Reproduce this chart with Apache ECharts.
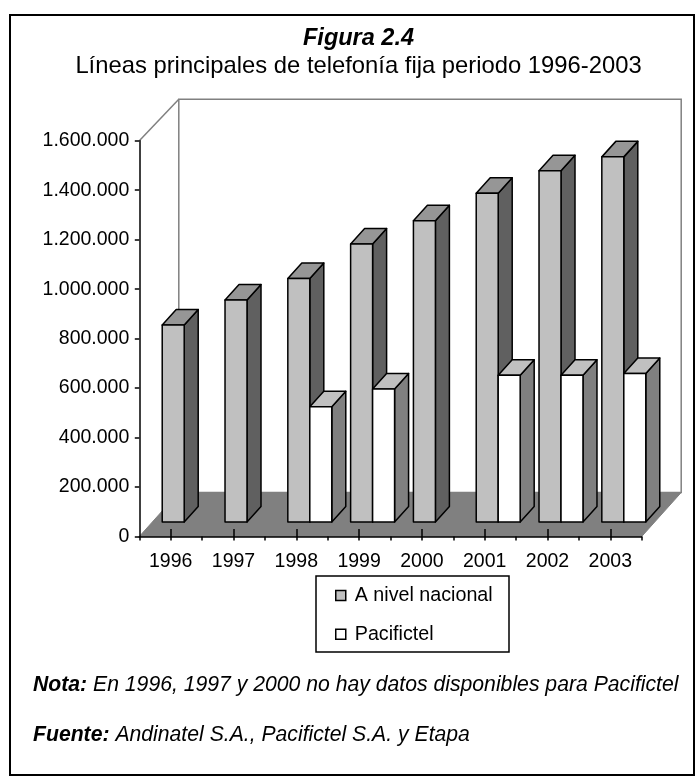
<!DOCTYPE html>
<html><head><meta charset="utf-8">
<script src="https://cdn.jsdelivr.net/npm/echarts@6/dist/echarts.min.js"></script>
<style>html,body{margin:0;padding:0;background:#fff}#c{width:695px;height:776px}</style>
</head><body><div id="c"></div>
<script>
// ---- data ----
const years = ['1996','1997','1998','1999','2000','2001','2002','2003'];
const nacional = [796000, 897000, 984000, 1124000, 1218000, 1329000, 1420000, 1476000];
const pacifictel = [null, null, 466000, 538000, null, 593000, 593000, 600000];
const seriesNames = ['A nivel nacional', 'Pacifictel'];
const yMin = 0, yMax = 1600000, yStep = 200000;
const titleText = 'Figura 2.4';
const subtitleText = 'Líneas principales de telefonía fija periodo 1996-2003';
const notaLabel = 'Nota:';
const notaText = 'En 1996, 1997 y 2000 no hay datos disponibles para Pacifictel';
const fuenteLabel = 'Fuente:';
const fuenteText = 'Andinatel S.A., Pacifictel S.A. y Etapa';

// ---- style ----
const FF = '"Liberation Sans", Arial, sans-serif';
const BAR_SHIFT = [13.5, -14.5];   // row of bars behind front axis
const BAR_DEPTH = [14, -15.5];     // 3D depth of each bar
const FLOOR_DEPTH = [39.5, -44];   // depth of the floor/walls
const NOTE_SIZE = 21.2;

function fmt(v){ return String(v).replace(/\B(?=(\d{3})+(?!\d))/g, '.'); }

function barRenderer(side, c){
  return function(params, api){
    const v = api.value(1);
    if (v == null || isNaN(v)) return;
    const i = api.value(0);
    const base = api.coord([i, 0]);
    const top = api.coord([i, v]);
    const w = api.size([1, 0])[0] * 0.35;
    const x0 = base[0] + BAR_SHIFT[0] + (side === 0 ? -w : 0);
    const x1 = x0 + w;
    const yb = base[1] + BAR_SHIFT[1];
    const yt = top[1] + BAR_SHIFT[1];
    const dx = BAR_DEPTH[0], dy = BAR_DEPTH[1];
    const st = {stroke: '#000', lineWidth: 1.5, lineJoin: 'round'};
    return {type: 'group', children: [
      {type: 'polygon', shape: {points: [[x1, yb], [x1 + dx, yb + dy], [x1 + dx, yt + dy], [x1, yt]]}, style: Object.assign({fill: c.side}, st)},
      {type: 'polygon', shape: {points: [[x0, yt], [x1, yt], [x1 + dx, yt + dy], [x0 + dx, yt + dy]]}, style: Object.assign({fill: c.top}, st)},
      {type: 'rect', shape: {x: x0, y: yt, width: w, height: yb - yt}, style: Object.assign({fill: c.front}, st)}
    ]};
  };
}

function decorRenderer(params, api){
  const cs = params.coordSys;
  const L = cs.x, T = cs.y, R = cs.x + cs.width, B = cs.y + cs.height;
  const dx = FLOOR_DEPTH[0], dy = FLOOR_DEPTH[1];
  const wallTop = T - 41.4;
  const g = {stroke: '#808080', lineWidth: 1.5};
  return {type: 'group', children: [
    {type: 'polygon', shape: {points: [[L, T], [L + dx, wallTop], [L + dx, B + dy], [L, B]]}, style: {fill: '#fff'}},
    {type: 'polyline', shape: {points: [[L, T], [L + dx, wallTop]]}, style: Object.assign({fill: null}, g)},
    {type: 'rect', shape: {x: L + dx, y: wallTop, width: R - L, height: (B + dy) - wallTop}, style: Object.assign({fill: '#fff'}, g)},
    {type: 'polygon', shape: {points: [[L, B], [R, B], [R + dx, B + dy], [L + dx, B + dy]]}, style: {fill: '#808080', stroke: '#808080', lineWidth: 1}}
  ]};
}

const chart = echarts.init(document.getElementById('c'), null, {renderer: 'canvas'});
const xBase = {type: 'category', data: years, gridIndex: 0, position: 'bottom'};
const noteRich = {
  b: {fontStyle: 'italic', fontWeight: 'bold', fontSize: NOTE_SIZE, fontFamily: FF, fill: '#000', color: '#000'},
  n: {fontStyle: 'italic', fontSize: NOTE_SIZE, fontFamily: FF, fill: '#000', color: '#000'}
};
chart.setOption({
  backgroundColor: '#fff',
  animation: false,
  textStyle: {fontFamily: FF},
  grid: {left: 139.3, top: 140.7, width: 502.4, height: 395.8, containLabel: false},
  xAxis: [
    Object.assign({}, xBase, {
      axisLine: {show: true, lineStyle: {color: '#000', width: 1.5}},
      axisTick: {show: true, alignWithLabel: false, length: 4, lineStyle: {color: '#000', width: 1.5}},
      axisLabel: {show: true, color: '#000', fontSize: 19.5, fontFamily: FF, margin: 15, interval: 0},
      splitLine: {show: false}
    }),
    Object.assign({}, xBase, {
      axisLine: {show: false},
      axisTick: {show: true, alignWithLabel: true, inside: true, length: 7.5, interval: 0, lineStyle: {color: '#000', width: 1.5}},
      axisLabel: {show: false}, splitLine: {show: false}
    }),
    Object.assign({}, xBase, {
      axisLine: {show: false},
      axisTick: {show: true, alignWithLabel: true, inside: false, length: 4, interval: 0, lineStyle: {color: '#000', width: 1.5}},
      axisLabel: {show: false}, splitLine: {show: false}
    })
  ],
  yAxis: {
    type: 'value', min: yMin, max: yMax, interval: yStep,
    axisLine: {show: true, lineStyle: {color: '#000', width: 1.5}},
    axisTick: {show: true, length: 4.5, lineStyle: {color: '#000', width: 1.5}},
    axisLabel: {color: '#000', fontSize: 19.5, fontFamily: FF, margin: 10, formatter: fmt},
    splitLine: {show: false}
  },
  legend: {
    orient: 'vertical', left: 335, top: 585.5, padding: 0,
    itemWidth: 10, itemHeight: 10, itemGap: 18.7,
    textStyle: {color: '#000', fontSize: 19.7, fontFamily: FF, lineHeight: 19, padding: [0, 0, 0, 4]},
    data: [
      {name: seriesNames[0], icon: 'rect', itemStyle: {color: '#C0C0C0', borderColor: '#000', borderWidth: 1.5}},
      {name: seriesNames[1], icon: 'rect', itemStyle: {color: '#FFFFFF', borderColor: '#000', borderWidth: 1.5}}
    ]
  },
  graphic: [
    {type: 'rect', z: -10, shape: {x: 10, y: 15, width: 684, height: 760}, style: {fill: null, stroke: '#000', lineWidth: 2}},
    {type: 'rect', shape: {x: 316, y: 576, width: 193, height: 76}, style: {fill: null, stroke: '#000', lineWidth: 1.5}},
    {type: 'text', x: 358.5, y: 38.3, style: {text: titleText, font: 'italic bold 23.5px ' + FF, fill: '#000', textAlign: 'center', textVerticalAlign: 'middle'}},
    {type: 'text', x: 358.5, y: 66.7, style: {text: subtitleText, font: '23.8px ' + FF, fill: '#000', textAlign: 'center', textVerticalAlign: 'middle'}},
    {type: 'text', x: 33, y: 685, style: {text: '{b|' + notaLabel + '}{n| ' + notaText + '}', fill: '#000', textAlign: 'left', textVerticalAlign: 'middle', rich: noteRich}},
    {type: 'text', x: 33, y: 735, style: {text: '{b|' + fuenteLabel + '}{n| ' + fuenteText + '}', fill: '#000', textAlign: 'left', textVerticalAlign: 'middle', rich: noteRich}}
  ],
  series: [
    {type: 'custom', name: '_decor', z: -1, silent: true, xAxisIndex: 0, yAxisIndex: 0, renderItem: decorRenderer, data: [[0, 0]], encode: {x: 0, y: 1}},
    {type: 'custom', name: seriesNames[0], z: 3, xAxisIndex: 0, yAxisIndex: 0,
      itemStyle: {color: '#C0C0C0', borderColor: '#000', borderWidth: 1.5},
      renderItem: barRenderer(0, {front: '#C0C0C0', top: '#969696', side: '#606060'}),
      data: nacional.map((v, i) => [i, v]), encode: {x: 0, y: 1}},
    {type: 'custom', name: seriesNames[1], z: 4, xAxisIndex: 0, yAxisIndex: 0,
      itemStyle: {color: '#FFFFFF', borderColor: '#000', borderWidth: 1.5},
      renderItem: barRenderer(1, {front: '#FFFFFF', top: '#C0C0C0', side: '#808080'}),
      data: pacifictel.map((v, i) => [i, v]), encode: {x: 0, y: 1}}
  ]
});
</script></body></html>
